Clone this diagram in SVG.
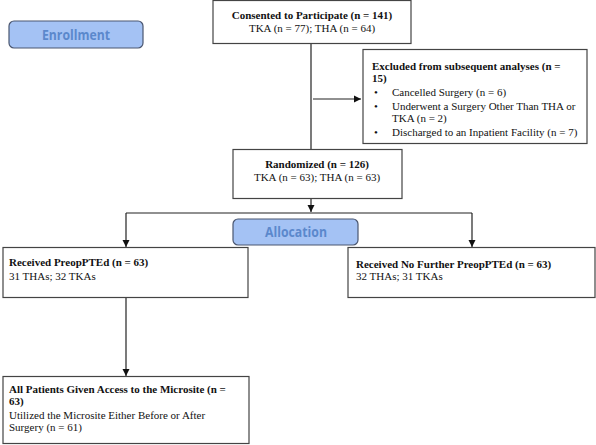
<svg xmlns="http://www.w3.org/2000/svg" width="596" height="445" viewBox="0 0 596 445">
<style>
.box{fill:#fff;stroke:#444;stroke-width:1.2}
.lbl{fill:#a4c2f4;stroke:#4a5670;stroke-width:1.2}
.lt{font-family:"Open Sans","Liberation Sans",sans-serif;font-weight:bold;font-size:14px;fill:#5b88cc;text-anchor:middle}
.t{font-family:"Liberation Serif","Times New Roman",serif;font-size:11px;fill:#111}
.b{font-weight:bold}
.c{text-anchor:middle}
.ln{stroke:#222;stroke-width:1.2;fill:none}
</style>
<defs>
<marker id="ah" markerWidth="8" markerHeight="8" refX="7" refY="4" orient="auto" markerUnits="userSpaceOnUse">
<path d="M0,0.5 L7,4 L0,7.5 Z" fill="#111"/>
</marker>
</defs>
<g id="connectors">
<path class="ln" d="M311,43 V149"/>
<path class="ln" d="M313,99 H361" marker-end="url(#ah)"/>
<path class="ln" d="M311,199 V212" marker-end="url(#ah)"/>
<path class="ln" d="M126,213 H472"/>
<path class="ln" d="M126,213 V247" marker-end="url(#ah)"/>
<path class="ln" d="M472,213 V247" marker-end="url(#ah)"/>
<path class="ln" d="M126,298 V376" marker-end="url(#ah)"/>
</g>
<g id="enrollment">
<rect class="lbl" x="9" y="21" width="134" height="27" rx="5"/>
<text class="lt" x="76" y="40" textLength="68" lengthAdjust="spacingAndGlyphs">Enrollment</text>
</g>
<g id="consented">
<rect class="box" x="213" y="0.5" width="198" height="43"/>
<text class="t b c" x="312" y="19">Consented to Participate (n = 141)</text>
<text class="t c" x="312" y="32">TKA (n = 77); THA (n = 64)</text>
</g>
<g id="excluded">
<rect class="box" x="363" y="49.5" width="224" height="94"/>
<text class="t b" x="372" y="70">Excluded from subsequent analyses  (n =</text>
<text class="t b" x="372" y="82">15)</text>
<text class="t" x="374" y="96">•</text>
<text class="t" x="392" y="96">Cancelled Surgery (n = 6)</text>
<text class="t" x="374" y="110">•</text>
<text class="t" x="392" y="110">Underwent a Surgery Other Than THA or</text>
<text class="t" x="392" y="122">TKA (n = 2)</text>
<text class="t" x="374" y="136">•</text>
<text class="t" x="392" y="136">Discharged to an Inpatient Facility (n = 7)</text>
</g>
<g id="randomized">
<rect class="box" x="233" y="149.5" width="169" height="49"/>
<text class="t b c" x="317" y="168">Randomized (n = 126)</text>
<text class="t c" x="317" y="181">TKA (n = 63); THA (n = 63)</text>
</g>
<g id="allocation">
<rect class="lbl" x="233" y="219" width="125" height="26" rx="5"/>
<text class="lt" x="296" y="237" textLength="62" lengthAdjust="spacingAndGlyphs">Allocation</text>
</g>
<g id="received">
<rect class="box" x="3" y="247.5" width="245" height="50"/>
<text class="t b" x="9" y="266">Received PreopPTEd (n = 63)</text>
<text class="t" x="9" y="280">31 THAs; 32 TKAs</text>
</g>
<g id="nofurther">
<rect class="box" x="348" y="247.5" width="247" height="50"/>
<text class="t b" x="356" y="268">Received No Further PreopPTEd (n = 63)</text>
<text class="t" x="356" y="280">32 THAs; 31 TKAs</text>
</g>
<g id="access">
<rect class="box" x="3" y="376.5" width="246" height="67"/>
<text class="t b" x="9" y="393">All Patients Given Access to the Microsite (n =</text>
<text class="t b" x="9" y="405">63)</text>
<text class="t" x="9" y="419">Utilized the Microsite Either Before or After</text>
<text class="t" x="9" y="431">Surgery (n = 61)</text>
</g>
</svg>
